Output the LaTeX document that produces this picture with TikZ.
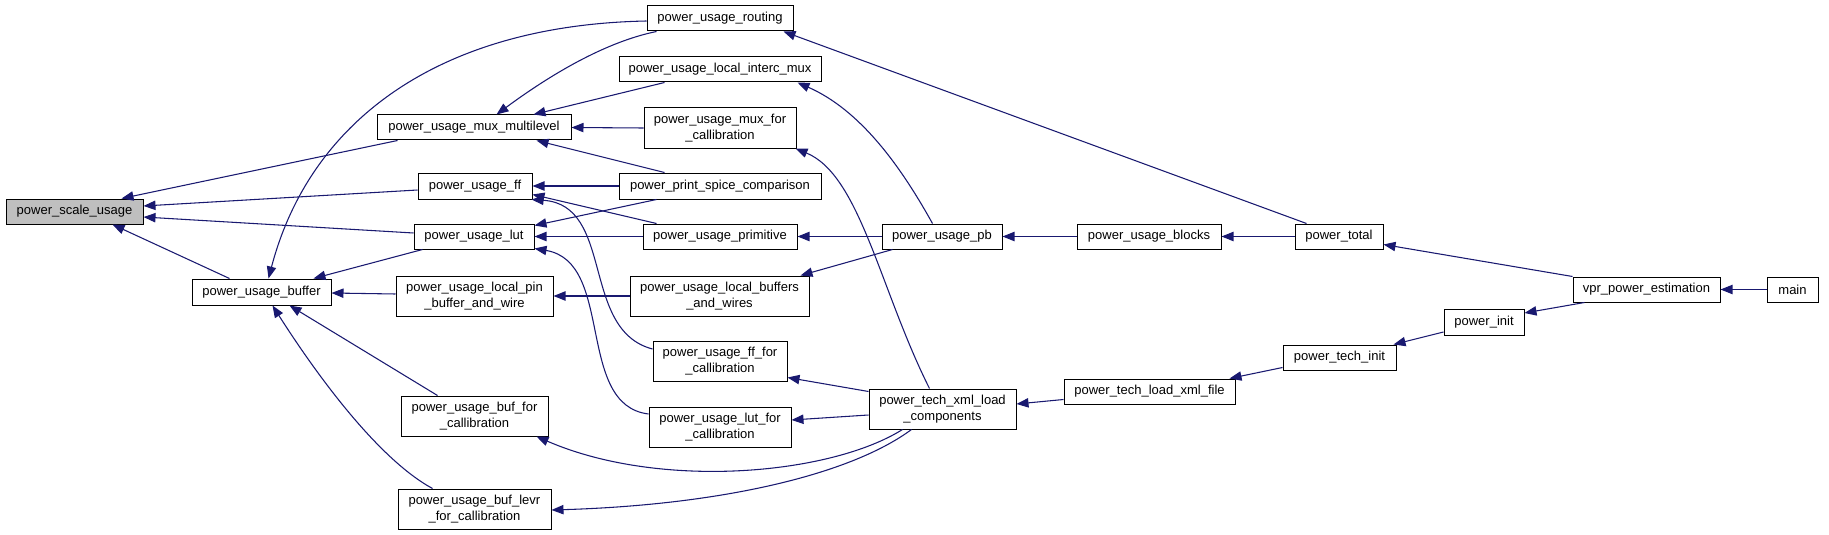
\documentclass[tikz,border=0pt]{standalone}
\usepackage{fontspec}
\setmainfont{Liberation Sans}
\usetikzlibrary{arrows.meta,calc}
\definecolor{edgec}{HTML}{191970}
\definecolor{hl}{HTML}{BFBFBF}
\begin{document}
\begin{tikzpicture}[x=0.75pt,y=-0.75pt,
  fn/.style={draw=black, fill=white, line width=0.75pt, inner sep=0pt, align=center,
    font=\fontsize{9.75}{12}\selectfont},
  box/.style 2 args={minimum width=#1*0.75pt, minimum height=#2*0.75pt},
  e/.style={draw=edgec, line width=0.8pt, -{Triangle[length=9pt,width=7pt]}}]
\useasboundingbox (0,0) rectangle (1829,535);

% nodes
\node[fn,box={137}{25},fill=hl] (scale) at (74.5,211.5) {power\_scale\_usage};
\node[fn,box={139}{26}] (buffer) at (261.5,292) {power\_usage\_buffer};
\node[fn,box={146}{25}] (routing) at (720,18.5) {power\_usage\_routing};
\node[fn,box={202}{25}] (interc) at (720,69.5) {power\_usage\_local\_interc\_mux};
\node[fn,box={194}{25}] (mux) at (474,127.5) {power\_usage\_mux\_multilevel};
\node[fn,box={152}{40}] (muxcal) at (720,128) {power\_usage\_mux\_for\\\_callibration};
\node[fn,box={114}{26}] (ff) at (475,186) {power\_usage\_ff};
\node[fn,box={202}{26}] (spice) at (720,186) {power\_print\_spice\_comparison};
\node[fn,box={120}{25}] (lut) at (474,236.5) {power\_usage\_lut};
\node[fn,box={154}{25}] (prim) at (720,236.5) {power\_usage\_primitive};
\node[fn,box={157}{40}] (pin) at (474.5,296) {power\_usage\_local\_pin\\\_buffer\_and\_wire};
\node[fn,box={179}{40}] (bufwires) at (719.5,296) {power\_usage\_local\_buffers\\\_and\_wires};
\node[fn,box={134}{40}] (ffcal) at (720,361) {power\_usage\_ff\_for\\\_callibration};
\node[fn,box={147}{40}] (bufcal) at (474.5,416) {power\_usage\_buf\_for\\\_callibration};
\node[fn,box={142}{40}] (lutcal) at (720,427) {power\_usage\_lut\_for\\\_callibration};
\node[fn,box={153}{40}] (levr) at (474.5,509) {power\_usage\_buf\_levr\\\_for\_callibration};
\node[fn,box={120}{25}] (pb) at (942,236.5) {power\_usage\_pb};
\node[fn,box={144}{25}] (blocks) at (1149,236.5) {power\_usage\_blocks};
\node[fn,box={88}{25}] (total) at (1339,236.5) {power\_total};
\node[fn,box={147}{40}] (xml) at (942.5,409) {power\_tech\_xml\_load\\\_components};
\node[fn,box={171}{25}] (loadxml) at (1149.5,391.5) {power\_tech\_load\_xml\_file};
\node[fn,box={113}{25}] (techinit) at (1339.5,357.5) {power\_tech\_init};
\node[fn,box={147}{25}] (vpr) at (1646.5,289.5) {vpr\_power\_estimation};
\node[fn,box={51}{25}] (main) at (1792.5,289.5) {main};
\node[fn,box={80}{26}] (pinit) at (1484,322) {power\_init};

% edges into power_scale_usage
\draw[e] ($(mux.south west)+(21,0)$) -- ($(scale.north west)+(116,0)$);
\draw[e] ($(ff.west)+(0,4)$) -- ($(scale.east)+(0,-5.5)$);
\draw[e] ($(lut.west)+(0,-3.5)$) -- ($(scale.east)+(0,5.5)$);
\draw[e] ($(buffer.north west)+(38,0)$) -- ($(scale.south west)+(107,0)$);

% edges into power_usage_buffer
\draw[e] ($(routing.west)+(0,2.5)$) .. controls (440,25) and (310,120) .. ($(buffer.north west)+(77,0)$);
\draw[e] ($(lut.south west)+(9,0)$) -- ($(buffer.north east)+(-18,0)$);
\draw[e] ($(pin.west)+(0,-2)$) -- ($(buffer.east)+(0,1)$);
\draw[e] ($(bufcal.north west)+(37,0)$) -- ($(buffer.south west)+(98,0)$);
\draw[e] ($(levr.north west)+(35,0)$) .. controls (380,460) and (320,380) .. ($(buffer.south west)+(81,0)$);

% edges into power_usage_mux_multilevel
\draw[e] ($(routing.south west)+(10,0)$) .. controls (605,42) and (550,75) .. ($(mux.north west)+(120,0)$);
\draw[e] ($(interc.south west)+(46,0)$) -- ($(mux.north east)+(-38,0)$);
\draw[e] (muxcal.west) -- (mux.east);
\draw[e] ($(spice.north west)+(46,0)$) -- ($(mux.south east)+(-35,0)$);

% edges into power_usage_ff
\draw[e] (spice.west) -- (ff.east);
\draw[e] ($(prim.north west)+(14,0)$) -- ($(ff.south east)+(0,-5)$);
\draw[e] ($(ffcal.west)+(0,-12)$) .. controls (580,330) and (615,205) .. ($(ff.south east)+(-1,0)$);

% edges into power_usage_lut
\draw[e] ($(spice.south west)+(38,0)$) -- ($(lut.north east)+(0,2)$);
\draw[e] (prim.west) -- (lut.east);
\draw[e] ($(lutcal.west)+(0,-13)$) .. controls (575,405) and (615,262) .. ($(lut.south east)+(0,-1)$);

% local pin
\draw[e] (bufwires.west) -- (pin.east);

% right part
\draw[e] ($(total.north west)+(12,0)$) -- ($(routing.south east)+(-10,0)$);
\draw[e] ($(pb.north west)+(51,0)$) .. controls (900,165) and (860,110) .. ($(interc.south east)+(-24,0)$);
\draw[e] ($(xml.north west)+(61,0)$) .. controls (880,290) and (860,175) .. ($(muxcal.south east)+(-1,0)$);
\draw[e] (pb.west) -- (prim.east);
\draw[e] ($(pb.south west)+(11,0)$) -- ($(bufwires.north east)+(-9,0)$);
\draw[e] ($(xml.north west)+(0,3)$) -- ($(ffcal.south east)+(0,-4)$);
\draw[e] ($(xml.west)+(0,6)$) -- ($(lutcal.east)+(0,-7)$);
\draw[e] ($(xml.south west)+(34,0)$) .. controls (830,475) and (660,490) .. ($(bufcal.south east)+(-12,0)$);
\draw[e] ($(xml.south west)+(43,0)$) .. controls (850,475) and (720,505) .. ($(levr.east)+(0,1)$);
\draw[e] (blocks.west) -- (pb.east);
\draw[e] (total.west) -- (blocks.east);
\draw[e] (vpr.north west) -- ($(total.east)+(0,8)$);
\draw[e] (main.west) -- (vpr.east);
\draw[e] ($(vpr.south west)+(12,0)$) -- ($(pinit.east)+(0,-9)$);
\draw[e] ($(pinit.west)+(0,10)$) -- ($(techinit.north east)+(-3,0)$);
\draw[e] ($(techinit.west)+(0,10)$) -- ($(loadxml.north east)+(-6,0)$);
\draw[e] ($(loadxml.west)+(0,8)$) -- ($(xml.east)+(0,-5)$);
\end{tikzpicture}
\end{document}
